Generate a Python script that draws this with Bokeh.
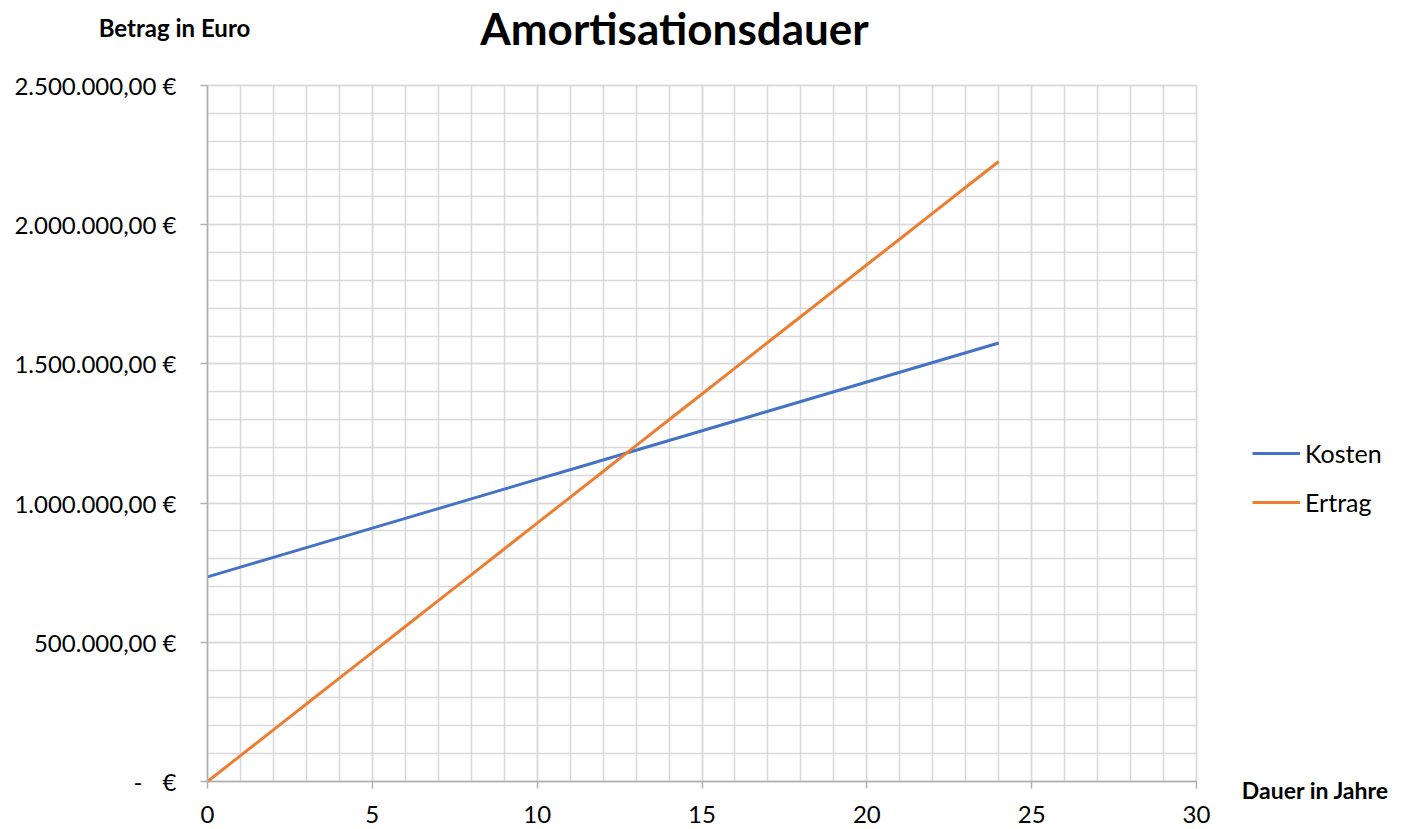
from bokeh.plotting import figure
from bokeh.models import FixedTicker, Label, Legend, LegendItem, Range1d
from bokeh.embed import file_html
from bokeh.resources import INLINE

jahre = [0, 1, 2, 3, 4, 5, 6, 7, 8, 9, 10, 11, 12, 13, 14, 15, 16, 17, 18, 19, 20, 21, 22, 23, 24]
kosten = [735000, 770000, 805000, 840000, 875000, 910000, 945000, 980000, 1015000, 1050000,
          1085000, 1120000, 1155000, 1190000, 1225000, 1260000, 1295000, 1330000, 1365000,
          1400000, 1435000, 1470000, 1505000, 1540000, 1575000]
ertrag = [0, 92800, 185600, 278400, 371200, 464000, 556800, 649600, 742400, 835200, 928000,
          1020800, 1113600, 1206400, 1299200, 1392000, 1484800, 1577600, 1670400, 1763200,
          1856000, 1948800, 2041600, 2134400, 2227200]
y_ticks = [0, 500000, 1000000, 1500000, 2000000, 2500000]
y_tick_labels = ["-\u2007\u00a0€", "500.000,00 €", "1.000.000,00 €", "1.500.000,00 €", "2.000.000,00 €", "2.500.000,00 €"]
x_ticks = [0, 5, 10, 15, 20, 25, 30]
title_text = "Amortisationsdauer"
y_title = "Betrag in Euro"
x_title = "Dauer in Jahre"
series_names = ["Kosten", "Ertrag"]

FONT = "Lato"
GRID = "#d9d9d9"
AXIS = "#b0b0b0"

# canvas and plot-area geometry (pixels)
W, H = 1404, 829
PL, PR, PT, PB = 207, 1196, 85, 781
X0, X1 = 0, 30
Y0, Y1 = 0, 2500000
kx = (PR - PL) / (X1 - X0)
ky = (PB - PT) / (Y1 - Y0)

def dx(px):
    return X0 + (px - PL) / kx

def dy(py):
    return Y0 + (PB - py) / ky

p = figure(width=W, height=H, output_backend="svg", toolbar_location=None,
           x_range=Range1d(dx(0), dx(W)), y_range=Range1d(dy(H), dy(0)),
           min_border=0, min_border_left=0, min_border_right=0,
           min_border_top=0, min_border_bottom=0)
p.outline_line_color = None
p.background_fill_color = "white"
p.border_fill_color = "white"

for ax in (p.xaxis[0], p.yaxis[0]):
    ax.fixed_location = 0
    ax.axis_line_color = AXIS
    ax.axis_line_width = 1.5
    ax.major_tick_line_color = AXIS
    ax.major_tick_line_width = 1.5
    ax.major_tick_out = 7
    ax.major_tick_in = 0
    ax.minor_tick_line_color = None
    ax.major_label_text_font = FONT
    ax.major_label_text_font_size = "24px"
    ax.major_label_text_color = "#000000"
p.xaxis.bounds = (X0, X1)
p.yaxis.bounds = (Y0, Y1)
p.xaxis.ticker = FixedTicker(ticks=x_ticks, minor_ticks=list(range(0, 31)))
p.yaxis.ticker = FixedTicker(ticks=y_ticks, minor_ticks=list(range(0, 2500001, 100000)))
p.yaxis.major_label_overrides = {t: s for t, s in zip(y_ticks, y_tick_labels)}
p.xaxis.major_label_standoff = 17
p.yaxis.major_label_standoff = 24

p.xgrid[0].bounds = (X0, X1)
p.xgrid[0].cross_bounds = (Y0, Y1)
p.ygrid[0].bounds = (Y0, Y1)
p.ygrid[0].cross_bounds = (X0, X1)
for g in (p.xgrid[0], p.ygrid[0]):
    g.grid_line_color = GRID
    g.minor_grid_line_color = GRID
    g.grid_line_width = 1.5
    g.minor_grid_line_width = 1.5

l1 = p.line(jahre, kosten, line_color="#4472C4", line_width=3)
l2 = p.line(jahre, ertrag, line_color="#ED7D31", line_width=3)

p.add_layout(Label(x=dx(674), y=dy(27), text=title_text, text_font=FONT, text_font_style="bold",
                   text_color="#000000",
                   text_font_size="44px", text_align="center", text_baseline="middle"))
p.add_layout(Label(x=dx(174), y=dy(27), text=y_title, text_font=FONT, text_font_style="bold",
                   text_color="#000000",
                   text_font_size="24px", text_align="center", text_baseline="middle"))
p.add_layout(Label(x=dx(1315), y=dy(789), text=x_title, text_font=FONT, text_font_style="bold",
                   text_color="#000000",
                   text_font_size="23px", text_align="center", text_baseline="middle"))

legend = Legend(items=[LegendItem(label=series_names[0], renderers=[l1]),
                       LegendItem(label=series_names[1], renderers=[l2])],
                location=(1252, H - 517), orientation="vertical")
legend.glyph_width = 48
legend.glyph_height = 20
legend.label_height = 20
legend.spacing = 19
legend.padding = 0
legend.margin = 0
legend.label_standoff = 5
legend.border_line_color = None
legend.background_fill_alpha = 0
legend.label_text_font = FONT
legend.label_text_font_size = "25px"
legend.label_text_color = "#000000"
legend.label_text_baseline = "middle"
p.add_layout(legend)

open("out.html", "w").write(file_html(p, INLINE))
